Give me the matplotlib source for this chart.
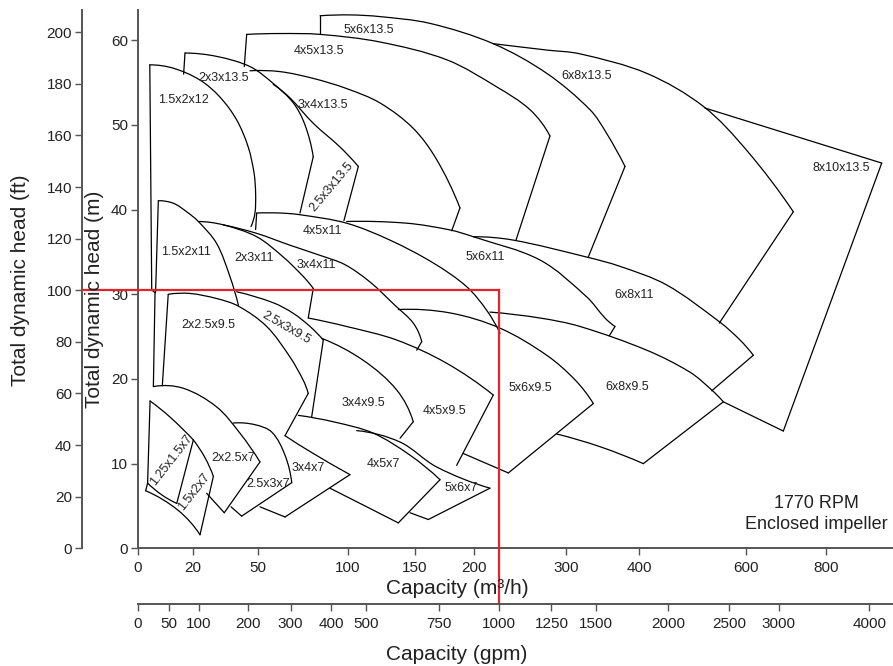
import numpy as np
import matplotlib
matplotlib.use("Agg")
import matplotlib.pyplot as plt
from matplotlib.path import Path
from matplotlib.patches import PathPatch
from matplotlib.transforms import IdentityTransform

plt.rcParams['font.family'] = ['Liberation Sans', 'DejaVu Sans']

# ---------------- axis definitions ----------------
FT_PER_M = 3.28084
GPM_PER_M3H = 4.403

cap_ticks = [0, 20, 50, 100, 150, 200, 300, 400, 600, 800]
gpm_ticks = [0, 50, 100, 200, 300, 400, 500, 750, 1000, 1250, 1500, 2000, 2500, 3000, 4000]
m_ticks = [0, 10, 20, 30, 40, 50, 60]
ft_ticks = [0, 20, 40, 60, 80, 100, 120, 140, 160, 180, 200]

# graduation of the (non-uniform) capacity scale: value -> relative spacing
cap_grad_q = [0, 20, 50, 100, 150, 200, 300, 400, 600, 800, 1000]
cap_grad_s = [0, 55, 120.3, 210, 277.3, 336.3, 428.6, 501.6, 608.3, 688.3, 768.3]

# ---------------- pump coverage outlines (capacity m3/h, head m) ----------------
# each outline is a list of runs; a 2-point run is a straight edge, longer runs are
# head-capacity curves
r_15x2x12 = [[(5.7, 19.1), (6.3, 30.2)], [(6.3, 30.2), (5.1, 30.5)], [(5.1, 30.5), (4.4, 57.1)],
             [(4.4, 57.1), (13.0, 56.7), (23.4, 55.3), (32.5, 53.3), (40.2, 50.6), (45.5, 47.4),
              (48.2, 44.3), (48.9, 41.9), (48.6, 39.6), (46.8, 38.0)]]
r_2x3x135 = [[(16.7, 56.0), (17.2, 58.5)],
             [(17.2, 58.5), (31.0, 58.1), (46.3, 56.9), (58.5, 54.9), (69.7, 52.6), (76.2, 50.0),
              (80.8, 46.25)],
             [(80.8, 46.25), (73.4, 39.6)]]
r_3x4x135 = [[(46.3, 56.4), (62.3, 56.3), (80.8, 55.5), (99.4, 54.3), (124.0, 52.6), (148.7, 49.6),
              (168.4, 45.9), (188.1, 40.2)],
             [(188.1, 40.2), (181.1, 37.5)]]
r_25x3x135 = [[(58.5, 54.8), (67.8, 53.2), (80.8, 50.2), (95.7, 47.4), (107.9, 45.1)],
              [(107.9, 45.1), (97.9, 38.7)]]
r_4x5x135 = [[(43.7, 56.9), (44.8, 60.7)],
             [(44.8, 60.7), (62.3, 60.8), (84.6, 60.7), (124.0, 59.8), (176.9, 57.7), (224.6, 54.5),
              (260.7, 51.8), (282.3, 48.7)],
             [(282.3, 48.7), (245.5, 36.4)]]
r_5x6x135 = [[(84.6, 60.8), (84.6, 62.9)],
             [(84.6, 62.9), (101.7, 63.0), (124.0, 62.8), (162.7, 62.0), (220.9, 59.6), (278.8, 56.1),
              (332.5, 51.8), (355.3, 49.0), (380.4, 45.1)],
             [(380.4, 45.1), (330.1, 34.4)]]
r_6x8x135 = [[(220.9, 59.6), (278.8, 58.85), (318.8, 58.4), (413.9, 56.1), (520.0, 52.2),
              (601.8, 47.0), (718.3, 39.75)],
             [(718.3, 39.75), (550.0, 26.6)]]
r_8x10x135 = [[(523.1, 52.0), (939.3, 45.5)], [(939.3, 45.5), (693.3, 13.85)],
              [(693.3, 13.85), (557.5, 17.3)]]

r_15x2x11 = [[(6.5, 30.2), (7.5, 41.05)],
             [(7.5, 41.05), (13.0, 40.75), (17.8, 39.75), (22.6, 38.6), (31.0, 36.0), (37.1, 32.1),
              (41.0, 28.7)]]
r_2x3x11 = [[(22.6, 38.6), (34.1, 38.2), (49.4, 36.8), (64.1, 34.4), (75.25, 32.1), (80.8, 30.7)],
            [(80.8, 30.7), (78.0, 27.2)]]
r_3x4x11 = [[(34.1, 38.2), (49.4, 37.2), (67.8, 35.8), (84.6, 34.6), (98.5, 33.5), (116.6, 31.45),
             (135.1, 28.7), (148.7, 26.6), (155.7, 24.4)],
            [(155.7, 24.4), (151.4, 23.4)]]
r_4x5x11 = [[(48.9, 37.65), (49.4, 39.6)],
            [(49.4, 39.6), (62.3, 39.6), (73.4, 39.4), (99.4, 38.4), (131.4, 36.4), (165.5, 33.7),
             (193.8, 30.9), (213.8, 28.1), (228.2, 25.4)]]
r_5x6x11 = [[(99.4, 38.6), (143.8, 38.4), (179.7, 37.6), (199.4, 36.8), (271.5, 34.05), (327.9, 29.7),
             (353.0, 27.2), (366.7, 26.2)],
            [(366.7, 26.2), (358.9, 25.1)]]
r_6x8x11 = [[(199.4, 36.8), (242.6, 36.4), (327.9, 34.4), (373.6, 33.3), (451.4, 31.1), (551.3, 26.7),
             (588.8, 24.6), (618.3, 22.8)],
            [(618.3, 22.8), (535.7, 18.6)]]

r_2x25x95 = [[(8.95, 19.2), (11.1, 30.0)],
             [(11.1, 30.0), (19.0, 30.1), (31.0, 29.5), (41.0, 28.6), (54.85, 26.2), (67.8, 22.6),
              (75.1, 19.9), (78.0, 18.3)],
             [(78.0, 18.3), (65.05, 13.3)]]
r_25x3x95 = [[(40.2, 30.3), (58.5, 29.0), (69.7, 27.75), (79.0, 26.2), (86.4, 24.6)],
             [(86.4, 24.6), (79.9, 15.5)]]
r_3x4x95 = [[(85.5, 24.8), (111.6, 22.2), (136.4, 18.7), (148.7, 14.95)],
            [(148.7, 14.95), (138.9, 13.0)]]
r_4x5x95 = [[(78.0, 27.2), (99.4, 26.2), (136.4, 24.6), (176.9, 21.85), (220.9, 18.1)],
            [(220.9, 18.1), (185.3, 9.8)]]
r_5x6x95 = [[(137.6, 28.2), (179.7, 27.8), (228.2, 26.0), (278.8, 22.8), (311.9, 19.9), (337.0, 17.1)],
            [(337.0, 17.1), (237.2, 8.9)], [(237.2, 8.9), (190.9, 11.2)]]
r_6x8x95 = [[(217.3, 27.9), (271.5, 27.2), (318.8, 26.2), (413.9, 23.4), (495.0, 20.8), (535.7, 18.7),
             (557.5, 17.3)],
            [(557.5, 17.3), (407.5, 10.0)],
            [(407.5, 10.0), (346.2, 12.0), (289.6, 13.5)]]

r_125x15x7 = [[(3.6, 7.7), (4.5, 17.4)], [(4.5, 17.4), (11.75, 15.5), (20.3, 12.8)],
              [(20.3, 12.8), (14.2, 5.3)], [(14.2, 5.3), (8.8, 6.3), (3.6, 7.7)]]
r_15x2x7 = [[(20.3, 12.8), (25.65, 10.7), (29.5, 8.5)], [(29.5, 8.5), (23.35, 1.6)],
            [(23.35, 1.6), (14.65, 4.5), (2.9, 6.8)], [(2.9, 6.8), (3.6, 7.7)]]
r_2x25x7 = [[(5.7, 19.1), (16.6, 18.9), (31.0, 16.7), (41.7, 13.6), (51.1, 10.2)],
            [(51.1, 10.2), (34.5, 4.2)], [(34.5, 4.2), (26.4, 6.5)]]
r_25x3x7 = [[(38.65, 14.8), (48.6, 14.6), (57.8, 13.7), (65.05, 11.0), (68.8, 7.75)],
            [(68.8, 7.75), (42.5, 3.8)], [(42.5, 3.8), (37.6, 4.9)]]
r_3x4x7 = [[(65.05, 13.3), (80.8, 11.2), (101.7, 8.7)], [(101.7, 8.7), (65.05, 3.7)],
           [(65.05, 3.7), (51.1, 4.9)]]
r_4x5x7 = [[(72.5, 15.7), (92.9, 14.9), (119.0, 13.6), (146.3, 11.0), (171.2, 8.1)],
           [(171.2, 8.1), (137.6, 3.0)], [(137.6, 3.0), (112.9, 5.0), (90.1, 7.1)]]
r_5x6x7 = [[(106.7, 13.9), (138.9, 12.55), (168.4, 9.6), (217.3, 7.1)],
           [(217.3, 7.1), (161.3, 3.4)], [(161.3, 3.4), (146.3, 4.2)]]

outlines = [r_15x2x12, r_2x3x135, r_3x4x135, r_25x3x135, r_4x5x135, r_5x6x135, r_6x8x135, r_8x10x135,
            r_15x2x11, r_2x3x11, r_3x4x11, r_4x5x11, r_5x6x11, r_6x8x11,
            r_2x25x95, r_25x3x95, r_3x4x95, r_4x5x95, r_5x6x95, r_6x8x95,
            r_125x15x7, r_15x2x7, r_2x25x7, r_25x3x7, r_3x4x7, r_4x5x7, r_5x6x7]

# ---------------- pump size labels ----------------
label_text = ['1.5x2x12', '2x3x13.5', '4x5x13.5', '5x6x13.5', '3x4x13.5', '6x8x13.5', '8x10x13.5',
              '2.5x3x13.5', '1.5x2x11', '2x3x11', '3x4x11', '4x5x11', '5x6x11', '6x8x11',
              '2x2.5x9.5', '2.5x3x9.5', '3x4x9.5', '4x5x9.5', '5x6x9.5', '6x8x9.5',
              '1.25x1.5x7', '1.5x2x7', '2x2.5x7', '2.5x3x7', '3x4x7', '4x5x7', '5x6x7']
label_q = [16.5, 34.4, 84.0, 115.8, 86.2, 328.4, 838.3, 91.1, 17.45, 48.25, 82.5, 85.7, 212.2, 392.5,
           27.1, 65.5, 111.6, 174.6, 260.7, 383.6, 12.4, 20.6, 38.65, 55.7, 78.0, 126.8, 188.8]
label_h = [52.95, 55.55, 58.73, 61.21, 52.36, 55.78, 44.88, 42.71, 35.0, 34.32, 33.46, 37.48, 34.4, 29.92,
           26.37, 26.08, 17.13, 16.27, 18.99, 19.09, 10.43, 6.68, 10.66, 7.6, 9.54, 9.93, 7.18]
label_rot = [0, 0, 0, 0, 0, 0, 0, 50, 0, 0, 0, 0, 0, 0,
             0, -30, 0, 0, 0, 0, 52, 52, 0, 0, 0, 0, 0]

# operating point guide lines
guide_head_ft = 100
guide_flow_gpm = 1000


def cap_fwd(q):
    return np.interp(q, cap_grad_q, cap_grad_s)


def cap_inv(s):
    return np.interp(s, cap_grad_s, cap_grad_q)


def gpm_fwd(g):
    return np.interp(np.asarray(g) / GPM_PER_M3H, cap_grad_q, cap_grad_s)


def gpm_inv(s):
    return np.interp(s, cap_grad_s, cap_grad_q) * GPM_PER_M3H


def _unit(v):
    n = np.hypot(v[..., 0], v[..., 1])
    n = np.where(n == 0, 1, n)
    return v / n[..., None]


def run_path(pts):
    """Straight segment for two points, smooth cubic curve through more points."""
    P = np.asarray(pts, dtype=float)
    if len(P) == 2:
        return Path(P, [Path.MOVETO, Path.LINETO])
    d = np.hypot(*(P[1:] - P[:-1]).T)
    T = np.zeros_like(P)
    T[1:-1] = _unit(P[2:] - P[:-2])
    T[0] = _unit(2 * _unit(P[1] - P[0]) - T[1])
    T[-1] = _unit(2 * _unit(P[-1] - P[-2]) - T[-2])
    verts = [P[0]]
    codes = [Path.MOVETO]
    for i in range(len(P) - 1):
        verts += [P[i] + T[i] * d[i] / 3, P[i + 1] - T[i + 1] * d[i] / 3, P[i + 1]]
        codes += [Path.CURVE4] * 3
    return Path(verts, codes)


W, H = 893, 666
fig = plt.figure(figsize=(W / 100, H / 100), dpi=100)
ax_l, ax_b, ax_w, ax_h = 137.7 / W, (H - 548.3) / H, (W - 137.7) / W, 538.3 / H
ax = fig.add_axes([ax_l, ax_b, ax_w, ax_h])

axis_col = '#555555'
text_col = '#222222'

ax.set_xscale('function', functions=(cap_fwd, cap_inv))
x_max = cap_inv(755.3)
ax.set_xlim(0, x_max)
ax.set_ylim(0, 63.58)
ax.set_autoscale_on(False)

for s in ['top', 'right']:
    ax.spines[s].set_visible(False)
for s in ['left', 'bottom']:
    ax.spines[s].set_color(axis_col)
    ax.spines[s].set_linewidth(1.4)

ax.set_xticks(cap_ticks)
ax.set_xticklabels([str(t) for t in cap_ticks])
ax.set_yticks(m_ticks)
ax.tick_params(axis='both', direction='out', length=5, width=1, color=axis_col,
               labelsize=11, labelcolor=text_col)
ax.tick_params(axis='x', pad=4)
ax.tick_params(axis='y', pad=2)
ax.minorticks_off()

# feet scale on the left
ft_loc = (81.7 - 137.7) / (W - 137.7)
ax_ft = ax.secondary_yaxis(ft_loc, functions=(lambda m: m * FT_PER_M, lambda f: f / FT_PER_M))
ax_ft.set_yticks(ft_ticks)
ax_ft.spines['left'].set_color(axis_col)
ax_ft.spines['left'].set_linewidth(1.4)
ax_ft.tick_params(axis='y', direction='out', length=5, width=1, color=axis_col,
                  labelsize=11, labelcolor=text_col, pad=2)

# gpm scale below
gpm_y = 604.3
ax_g = fig.add_axes([ax_l, (H - gpm_y) / H, ax_w, 0.0001])
ax_g.set_xscale('function', functions=(gpm_fwd, gpm_inv))
ax_g.set_xlim(0, x_max * GPM_PER_M3H)
ax_g.patch.set_visible(False)
for s in ['top', 'right', 'left']:
    ax_g.spines[s].set_visible(False)
ax_g.spines['bottom'].set_color(axis_col)
ax_g.spines['bottom'].set_linewidth(1.4)
ax_g.set_yticks([])
ax_g.set_xticks(gpm_ticks)
ax_g.set_xticklabels([str(t) for t in gpm_ticks])
ax_g.minorticks_off()
ax_g.tick_params(axis='x', direction='out', length=5, width=1, color=axis_col,
                 labelsize=11, labelcolor=text_col, pad=4)

# pump coverage areas (points mapped through the axes scales, then stroked)
for outline in outlines:
    for run in outline:
        disp = ax.transData.transform(np.asarray(run, dtype=float))
        patch = PathPatch(run_path(disp), transform=IdentityTransform(), facecolor='none',
                          edgecolor='black', lw=0.9, joinstyle='miter', capstyle='round',
                          zorder=2, clip_on=False)
        ax.add_artist(patch)

for t, q, h, r in zip(label_text, label_q, label_h, label_rot):
    ax.text(q, h, t, ha='center', va='center', rotation=r, fontsize=9, color=text_col,
            rotation_mode='anchor', zorder=3)

ax.text(775, 5.31, '1770 RPM', ha='center', va='center', fontsize=13, color=text_col)
ax.text(775, 2.81, 'Enclosed impeller', ha='center', va='center', fontsize=13, color=text_col)

# guide lines for 1000 gpm at 100 ft
red = '#e3242b'
h_g = guide_head_ft / FT_PER_M
q_g = guide_flow_gpm / GPM_PER_M3H
ax.plot([0, q_g], [h_g, h_g], color=red, lw=1.6, zorder=5, clip_on=False)
ax.plot([q_g, q_g], [0, h_g], color=red, lw=1.6, zorder=5, clip_on=False)
ax.plot([ft_loc, 0], [h_g, h_g], color=red, lw=1.6, zorder=5, clip_on=False,
        transform=ax.get_yaxis_transform())
ax.plot([q_g, q_g], [(548.3 - gpm_y) / 538.3, 0], color=red, lw=1.6, zorder=5, clip_on=False,
        transform=ax.get_xaxis_transform())

# axis titles
fig.text(457 / W, 1 - 588.5 / H, 'Capacity (m³/h)', ha='center', va='center', fontsize=15, color=text_col)
fig.text(457 / W, 1 - 655 / H, 'Capacity (gpm)', ha='center', va='center', fontsize=15, color=text_col)
fig.text(21 / W, 1 - 280.5 / H, 'Total dynamic head (ft)', ha='center', va='center', rotation=90,
         fontsize=15, color=text_col)
fig.text(95 / W, 1 - 299 / H, 'Total dynamic head (m)', ha='center', va='center', rotation=90,
         fontsize=15, color=text_col)

fig.savefig('out.png', dpi=100, facecolor='white')
